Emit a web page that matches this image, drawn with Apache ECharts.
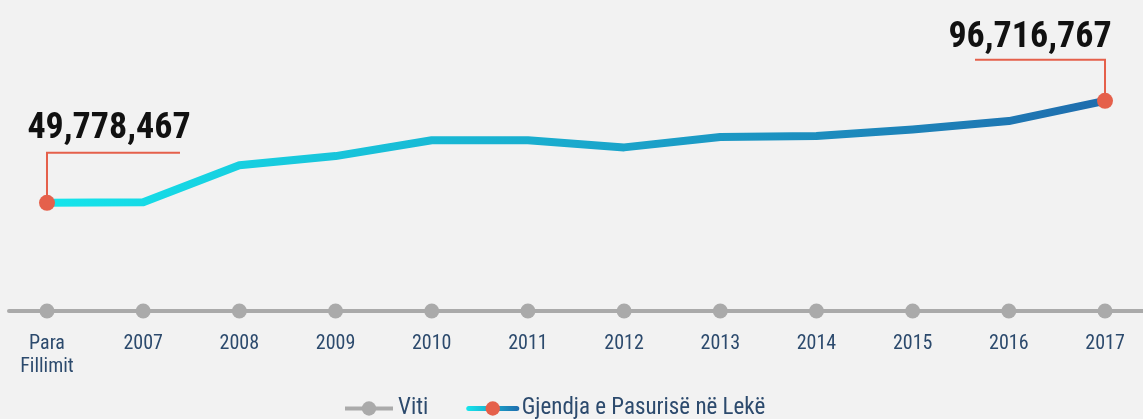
<!DOCTYPE html>
<html>
<head>
<meta charset="utf-8">
<script src="https://cdn.jsdelivr.net/npm/echarts@6/dist/echarts.min.js"></script>
<style>
    html, body { margin: 0; padding: 0; background: #f2f2f2; }
    #chart { width: 1143px; height: 419px; }
</style>
</head>
<body>
<div id="chart"></div>
<script>
// categories on the x axis
const years = ['Para\nFillimit', '2007', '2008', '2009', '2010', '2011', '2012', '2013', '2014', '2015', '2016', '2017'];
// wealth in Lekë (ends are labelled)
const wealth = [49778467, 50100000, 67100000, 71300000, 78600000, 78600000, 75300000, 80100000, 80500000, 83500000, 87400000, 96716767];
// baseline series "Viti"
const viti = [0, 0, 0, 0, 0, 0, 0, 0, 0, 0, 0, 0];
// points that get a callout
const calloutIdx = [0, 11];

const seriesName = 'Gjendja e Pasurisë në Lekë';
const RED = '#e5604b';
const TEXT = '#2c4a6d';
const FONT = '"Roboto Condensed", "Liberation Sans", sans-serif';

// callout geometry (pixels relative to the point), style only
const calloutStyle = [
    { up: 50, run: 133, textDx: 62, textUp: 56 },
    { up: 41, run: -130, textDx: -75, textUp: 45 }
];

const lineGradient = () => new echarts.graphic.LinearGradient(0, 0, 1, 0, [
    { offset: 0, color: '#15e6ec' },
    { offset: 1, color: '#1f6cad' }
]);

const chart = echarts.init(document.getElementById('chart'));

const lineData = wealth.map((v, i) => {
    const show = calloutIdx.indexOf(i) >= 0;
    return { value: [i, v], symbol: show ? 'circle' : 'none' };
});

chart.setOption({
    backgroundColor: '#f2f2f2',
    animation: false,
    grid: { left: 9, right: 0, top: 72, bottom: 108 },
    legend: {
        left: 338,
        top: 392,
        itemWidth: 48,
        itemHeight: 18,
        itemGap: 38,
        textStyle: { color: TEXT, fontFamily: FONT, fontSize: 23 },
        data: [
            { name: 'Viti', lineStyle: { width: 4, color: '#aaaaaa' } },
            { name: seriesName, lineStyle: { width: 5, color: lineGradient() } }
        ]
    },
    xAxis: {
        type: 'value',
        min: -0.395,
        max: 11.395,
        splitLine: { show: false },
        axisTick: { show: false },
        axisLine: { show: true, lineStyle: { color: '#aaaaaa', width: 4 } },
        axisLabel: {
            customValues: years.map((y, i) => i),
            formatter: v => years[Math.round(v)],
            color: TEXT,
            fontFamily: FONT,
            fontSize: 20,
            lineHeight: 23,
            margin: 21,
            showMinLabel: true,
            showMaxLabel: true
        }
    },
    yAxis: {
        type: 'value',
        min: 0,
        max: 110000000,
        show: false
    },
    series: [
        {
            name: 'Viti',
            type: 'line',
            data: viti.map((v, i) => [i, v]),
            symbol: 'circle',
            symbolSize: 15,
            itemStyle: { color: '#aaaaaa' },
            lineStyle: { color: '#aaaaaa', width: 4 },
            z: 3
        },
        {
            name: seriesName,
            type: 'line',
            data: lineData,
            symbol: 'circle',
            symbolSize: 16,
            showAllSymbol: true,
            itemStyle: { color: RED },
            lineStyle: {
                width: 8,
                join: 'round',
                cap: 'round',
                color: lineGradient()
            },
            z: 5
        },
        {
            name: 'callouts',
            type: 'custom',
            data: calloutIdx.map(i => [i, wealth[i]]),
            z: 4,
            silent: true,
            renderItem: (params, api) => {
                const p = api.coord([api.value(0), api.value(1)]);
                const s = calloutStyle[params.dataIndex];
                const label = echarts.format.addCommas(api.value(1));
                return {
                    type: 'group',
                    children: [
                        {
                            type: 'polyline',
                            shape: { points: [[p[0], p[1]], [p[0], p[1] - s.up], [p[0] + s.run, p[1] - s.up]] },
                            style: { stroke: RED, lineWidth: 2, fill: null }
                        },
                        {
                            type: 'text',
                            style: {
                                text: label,
                                x: p[0] + s.textDx,
                                y: p[1] - s.textUp,
                                align: 'center',
                                verticalAlign: 'bottom',
                                font: 'bold 36px ' + FONT,
                                fill: '#111111'
                            }
                        }
                    ]
                };
            }
        }
    ]
});
</script>
</body>
</html>
